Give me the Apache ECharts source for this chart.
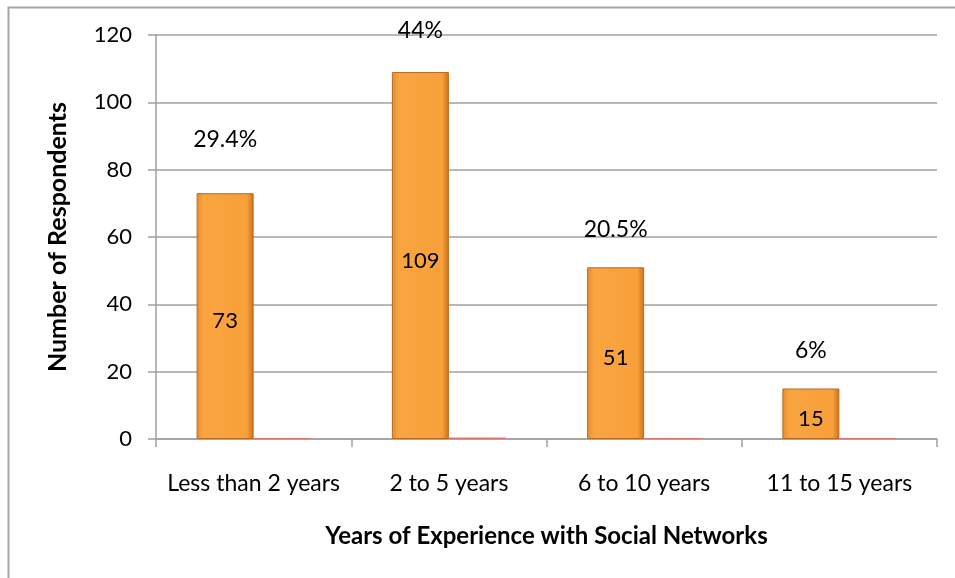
<!DOCTYPE html>
<html>
<head>
<meta charset="utf-8">
<script src="https://cdn.jsdelivr.net/npm/echarts@6/dist/echarts.min.js"></script>
<style>html,body{margin:0;padding:0;background:#fff}#c{width:955px;height:578px}</style>
</head>
<body>
<div id="c"></div>
<script>
var categories = ['Less than 2 years', '2 to 5 years', '6 to 10 years', '11 to 15 years'];
var respondents = [73, 109, 51, 15];
var percentLabels = ['29.4%', '44%', '20.5%', '6%'];
var percentValues = [0.294, 0.44, 0.205, 0.06];
var yTicks = { min: 0, max: 120, interval: 20 };

var FONT = 'Lato, "Liberation Sans", sans-serif';
var pctDistance = [42, 30, 26, 26];

var chart = echarts.init(document.getElementById('c'), null, { renderer: 'canvas' });
var orange = new echarts.graphic.LinearGradient(0, 0, 1, 0, [
  { offset: 0, color: '#E98A2E' },
  { offset: 0.12, color: '#F9A540' },
  { offset: 0.88, color: '#F8A03A' },
  { offset: 1, color: '#C8731F' }
]);

chart.setOption({
  animation: false,
  backgroundColor: '#fff',
  graphic: [{
    type: 'rect', left: 6, top: 5, shape: { width: 1000, height: 700 },
    style: { fill: 'none', stroke: '#A6A6A6', lineWidth: 2 }, silent: true, z: -1
  }],
  grid: { left: 156, right: 18, top: 35, bottom: 139 },
  xAxis: {
    type: 'category',
    data: categories,
    name: 'Years of Experience with Social Networks',
    nameLocation: 'middle',
    nameGap: 85,
    nameTextStyle: { fontFamily: FONT, fontSize: 24, fontWeight: 'bold', color: '#000' },
    axisLine: { lineStyle: { color: '#A0A0A0', width: 1.5 } },
    axisTick: { show: true, length: 8, lineStyle: { color: '#A0A0A0', width: 1.5 } },
    axisLabel: { interval: 0, fontFamily: FONT, fontSize: 23, color: '#000', margin: 33 }
  },
  yAxis: {
    type: 'value',
    min: yTicks.min, max: yTicks.max, interval: yTicks.interval,
    name: 'Number of Respondents',
    nameLocation: 'middle',
    nameGap: 86,
    nameTextStyle: { fontFamily: FONT, fontSize: 25, fontWeight: 'bold', color: '#000' },
    axisLine: { show: true, lineStyle: { color: '#A0A0A0', width: 1.5 } },
    axisTick: { show: true, length: 8, lineStyle: { color: '#A0A0A0', width: 1.5 } },
    splitLine: { lineStyle: { color: '#A0A0A0', width: 1.5 } },
    axisLabel: { fontFamily: FONT, fontSize: 22, color: '#000', margin: 24 }
  },
  series: [
    {
      type: 'bar',
      stack: 'count',
      data: respondents,
      barWidth: 57,
      barGap: 0,
      itemStyle: { color: orange, borderColor: '#B86A20', borderWidth: 1 },
      label: { show: true, position: 'inside', fontFamily: FONT, fontSize: 22, color: '#000', offset: [0, 5] }
    },
    {
      type: 'bar',
      stack: 'count',
      data: respondents.map(function (v, i) {
        return {
          value: 0,
          label: { distance: pctDistance[i], formatter: percentLabels[i] }
        };
      }),
      barWidth: 57,
      itemStyle: { color: 'transparent' },
      label: { show: true, position: 'top', fontFamily: FONT, fontSize: 23, color: '#000' }
    },
    {
      type: 'bar',
      data: percentValues,
      barWidth: 57,
      barGap: 0,
      barMinHeight: 1,
      itemStyle: { color: '#D9786E' }
    }
  ]
});
</script>
</body>
</html>
